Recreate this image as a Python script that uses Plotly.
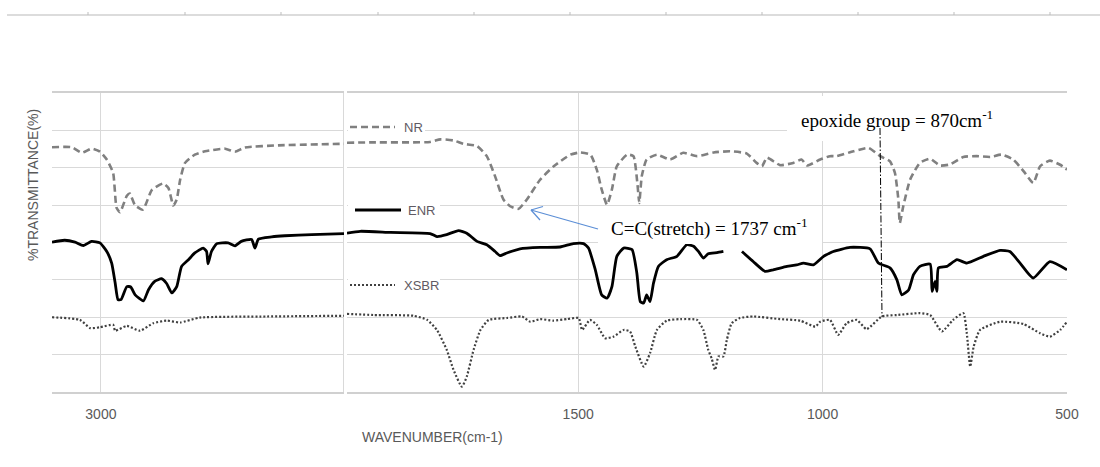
import plotly.graph_objects as go

# ---------------- data (wavenumber cm-1, transmittance arbitrary %) ----------------
NR_L_wn = [3100, 3060, 3039, 3019, 3002, 2988, 2975, 2968, 2961, 2947, 2941, 2930, 2914, 2896, 2873, 2862,
           2852, 2845, 2838, 2828, 2808, 2787, 2746, 2726, 2706, 2637, 2503]
NR_L_T = [65.5, 65.5, 64.0, 65.1, 64.3, 62.2, 58.6, 49.3, 48.1, 52.5, 53.1, 49.9, 48.8, 54.0, 55.8, 54.6,
          49.9, 51.5, 56.8, 61.3, 63.5, 64.4, 65.1, 64.3, 65.4, 66.0, 66.4]

ENR_L_wn = [3100, 3074, 3053, 3036, 3019, 3002, 2988, 2978, 2971, 2965, 2959, 2947, 2939, 2930, 2913, 2903,
            2890, 2876, 2866, 2855, 2845, 2835, 2821, 2808, 2791, 2784, 2781, 2774, 2763, 2740, 2726, 2713,
            2692, 2685, 2678, 2651, 2624, 2569, 2503]
ENR_L_T = [40.1, 40.6, 40.1, 39.2, 40.3, 39.9, 37.6, 34.5, 29.3, 24.7, 24.7, 28.2, 28.1, 26.0, 24.4, 27.3,
           29.6, 30.3, 29.1, 26.5, 28.2, 33.6, 35.4, 37.2, 38.5, 37.6, 34.3, 37.6, 39.7, 39.9, 39.1, 40.3,
           40.8, 38.5, 40.9, 41.5, 41.8, 42.1, 42.4]

XSBR_L_wn = [3100, 3043, 3022, 3002, 2975, 2971, 2947, 2920, 2893, 2866, 2838, 2798, 2661, 2503]
XSBR_L_T = [20.0, 19.3, 17.1, 17.3, 18.0, 16.4, 17.7, 16.4, 18.4, 19.1, 18.6, 19.9, 20.2, 20.4]

NR_R_wn = [1973, 1919, 1803, 1782, 1755, 1735, 1707, 1687, 1670, 1653, 1639, 1622, 1605, 1578, 1550,
           1516, 1496, 1475, 1462, 1452, 1441, 1431, 1421, 1400, 1387, 1379, 1375, 1370, 1360, 1339,
           1312, 1285, 1257, 1223, 1189, 1155, 1135, 1124, 1114, 1087, 1060, 1043, 1032, 1005, 985,
           971, 937, 906, 882, 862, 852, 845, 842, 835, 821, 801, 780, 760, 739, 712,
           685, 657, 634, 610, 589, 569, 555, 535, 514, 500]
NR_R_T = [66.7, 66.8, 66.9, 67.6, 67.3, 66.4, 65.8, 63.1, 57.7, 51.5, 49.7, 49.0, 51.5, 56.8, 60.4,
          63.5, 64.1, 63.5, 59.5, 54.2, 50.1, 54.2, 60.4, 63.5, 63.1, 55.9, 50.6, 57.7, 62.2, 63.5,
          62.2, 64.0, 63.1, 64.1, 64.4, 63.8, 61.3, 60.4, 62.7, 60.7, 61.3, 62.2, 60.6, 62.2, 63.1,
          63.1, 64.4, 65.3, 63.1, 61.7, 58.6, 51.5, 45.2, 49.7, 56.8, 61.3, 62.4, 60.6, 60.9, 62.9,
          63.1, 62.9, 63.5, 62.2, 59.1, 55.9, 60.4, 61.9, 60.8, 59.5]

ENR_R_wn = [1973, 1946, 1884, 1803, 1789, 1769, 1745, 1728, 1707, 1687, 1670, 1660, 1646, 1619, 1578,
            1537, 1510, 1489, 1479, 1465, 1452, 1441, 1431, 1421, 1407, 1390, 1380, 1373, 1366, 1360,
            1353, 1346, 1336, 1319, 1298, 1278, 1264, 1254, 1244, 1234, 1216, 1203, None,
            1165, 1142, 1118, 1101, 1073, 1053, 1039, 1019, 998, 985, 978, 944, 903, 886, 862,
            848, 838, 824, 814, 801, 780, 776, 770, 766, 763, 746, 725, 705, 671, 637,
            617, 596, 569, 535, 500]
ENR_R_T = [42.5, 43.0, 42.7, 42.4, 41.6, 42.1, 43.2, 42.5, 40.3, 39.4, 37.6, 36.5, 37.2, 38.3, 38.7,
           38.8, 39.7, 39.7, 38.5, 32.7, 26.0, 25.1, 28.2, 36.3, 38.5, 38.1, 31.8, 24.2, 23.8, 26.0,
           24.2, 29.1, 33.6, 35.4, 36.3, 39.4, 39.0, 37.6, 35.8, 37.0, 37.3, 37.6, None,
           37.6, 34.9, 32.3, 32.7, 33.6, 34.0, 34.5, 34.0, 36.3, 37.2, 37.6, 38.7, 38.3, 34.5, 33.2,
           30.0, 26.0, 27.3, 31.4, 33.6, 34.2, 26.9, 29.6, 26.9, 33.2, 33.6, 35.4, 34.5, 36.3, 37.9,
           37.6, 34.5, 30.5, 34.9, 32.7]

XSBR_R_wn = [1973, 1919, 1837, 1809, 1789, 1769, 1755, 1738, 1728, 1714, 1700, 1683, 1646, 1615, 1598,
             1578, 1551, 1523, 1499, 1492, 1476, 1462, 1445, 1428, 1407, 1394, 1383, 1366, 1353, 1339,
             1319, 1291, 1257, 1244, 1234, 1227, 1220, 1213, 1203, 1196, 1186, 1169, 1142, 1087, 1046,
             1015, 1005, 985, 968, 951, 930, 910, 879, 848, 801, 780, 756, 733, 712, 705,
             698, 691, 678, 637, 589, 555, 535, 514, 500]
XSBR_R_T = [20.9, 20.6, 20.4, 19.3, 16.6, 11.3, 5.9, 1.4, 4.1, 11.3, 16.6, 19.3, 19.8, 20.2, 18.8,
            19.5, 19.1, 19.5, 19.8, 16.6, 19.3, 18.0, 14.4, 14.8, 16.6, 16.2, 12.1, 6.8, 10.4, 16.6,
            19.1, 19.5, 19.3, 16.6, 11.3, 9.0, 5.9, 9.5, 9.5, 13.9, 18.4, 19.8, 20.2, 19.5, 19.1,
            17.5, 18.8, 19.3, 15.3, 18.4, 19.3, 16.8, 20.2, 20.6, 21.1, 20.6, 16.2, 19.3, 21.1, 15.7,
            6.8, 12.1, 16.6, 18.8, 18.2, 15.7, 14.8, 16.6, 18.8]

LEFT_RANGE = [3100, 2503]
RIGHT_RANGE = [1973, 500]
LEFT_TICKS = [3000]
LEFT_EDGE = 2504
RIGHT_TICKS = [1500, 1000, 500]
SERIES_NAMES = ["NR", "ENR", "XSBR"]

# ---------------- styles ----------------
W, H = 1100, 467
ML, MR, MT, MB = 52, 33, 93, 75
PW, PH = W - ML - MR, H - MT - MB

def px(x):
    return (x - ML) / PW

def py(y):
    return (H - MB - y) / PH

NR_LINE = dict(color="#808080", width=2.6, dash="7px,4px", shape="spline", smoothing=0.5)
ENR_LINE = dict(color="#000000", width=2.8, shape="spline", smoothing=0.5)
XSBR_LINE = dict(color="#404040", width=2.2, dash="2px,2px", shape="spline", smoothing=0.5)
GRID = "#d9d9d9"
LABEL_FONT = dict(family="Liberation Sans, Arial, sans-serif", size=14, color="#595959")

fig = go.Figure()
for wn, t, line in [(NR_L_wn, NR_L_T, NR_LINE), (ENR_L_wn, ENR_L_T, ENR_LINE), (XSBR_L_wn, XSBR_L_T, XSBR_LINE)]:
    fig.add_trace(go.Scatter(x=wn, y=t, mode="lines", line=line, xaxis="x", yaxis="y",
                             showlegend=False, hoverinfo="skip"))
for wn, t, line in [(NR_R_wn, NR_R_T, NR_LINE), (ENR_R_wn, ENR_R_T, ENR_LINE), (XSBR_R_wn, XSBR_R_T, XSBR_LINE)]:
    fig.add_trace(go.Scatter(x=wn, y=t, mode="lines", line=line, xaxis="x2", yaxis="y2",
                             showlegend=False, hoverinfo="skip", connectgaps=False))

axis_common = dict(showgrid=True, gridcolor=GRID, gridwidth=1, zeroline=False, showline=True,
                   linecolor="#d0d0d0", linewidth=2, mirror=True, ticks="", tickfont=LABEL_FONT,
                   ticklabelstandoff=8)
yaxis_common = dict(range=[0, 80], dtick=10, showgrid=True, gridcolor=GRID, gridwidth=1, zeroline=False,
                    showticklabels=False, showline=False, ticks="")

fig.update_layout(
    width=W, height=H, margin=dict(l=ML, r=MR, t=MT, b=MB),
    paper_bgcolor="white", plot_bgcolor="white",
    xaxis=dict(domain=[0, px(344)], range=LEFT_RANGE, tickvals=LEFT_TICKS, anchor="y", **axis_common),
    xaxis2=dict(domain=[px(347), 1], range=RIGHT_RANGE, tickvals=RIGHT_TICKS, anchor="y2", **axis_common),
    yaxis=dict(domain=[0, 1], anchor="x", **yaxis_common),
    yaxis2=dict(domain=[0, 1], anchor="x2", matches="y", **yaxis_common),
)

shapes = []
# right edge gridline of left panel (axis break)
shapes.append(dict(type="line", xref="x", yref="y domain", x0=LEFT_EDGE, x1=LEFT_EDGE, y0=0, y1=1,
                   line=dict(color=GRID, width=1), layer="below"))
# faint axis of a chart cropped above
shapes.append(dict(type="line", xref="paper", yref="paper", x0=px(7), x1=px(1100), y0=py(15), y1=py(15),
                   line=dict(color="#dcdcdc", width=2)))
for tx in [88, 185, 281, 378, 474, 570, 666, 762, 858, 954, 1050]:
    shapes.append(dict(type="line", xref="paper", yref="paper", x0=px(tx), x1=px(tx), y0=py(12), y1=py(15),
                       line=dict(color="#bdbdbd", width=1)))

def white_box(x0, x1, y0, y1):
    shapes.append(dict(type="rect", xref="paper", yref="paper", x0=px(x0), x1=px(x1), y0=py(y1), y1=py(y0),
                       fillcolor="white", line=dict(width=0), layer="above"))

# legend boxes
white_box(348, 425, 120, 137)
white_box(348, 440, 199, 221)
white_box(348, 440, 276, 294)
# annotation text boxes
white_box(598, 822, 209, 244)
white_box(787, 1070, 96, 141)

# legend samples
for (x0, x1, yy, line) in [(350, 395, 127, NR_LINE), (355, 401, 210, ENR_LINE), (350, 395, 285, XSBR_LINE)]:
    ln = {k: v for k, v in line.items() if k in ("color", "width", "dash")}
    shapes.append(dict(type="line", xref="paper", yref="paper", x0=px(x0), x1=px(x1), y0=py(yy), y1=py(yy),
                       line=ln, layer="above"))

# epoxide marker line (dash-dot)
shapes.append(dict(type="line", xref="paper", yref="paper", x0=px(880), x1=px(882), y0=py(128), y1=py(317),
                   line=dict(color="#000000", width=1, dash="7px,2px,1.5px,2px"), layer="above"))

# blue arrow
ARROW = dict(color="#5b8ed6", width=1.2)
shapes.append(dict(type="line", xref="paper", yref="paper", x0=px(598), y0=py(229), x1=px(531), y1=py(210),
                   line=ARROW, layer="above"))
shapes.append(dict(type="line", xref="paper", yref="paper", x0=px(531), y0=py(210), x1=px(543), y1=py(206.5),
                   line=ARROW, layer="above"))
shapes.append(dict(type="line", xref="paper", yref="paper", x0=px(531), y0=py(210), x1=px(540), y1=py(220),
                   line=ARROW, layer="above"))
fig.update_layout(shapes=shapes)

ann = []
LEG_FONT = dict(family="Liberation Sans, Arial, sans-serif", size=13, color="#5f5a63")
for name, lx, ly in [(SERIES_NAMES[0], 402, 127), (SERIES_NAMES[1], 406, 210), (SERIES_NAMES[2], 402, 285)]:
    ann.append(dict(text=name, xref="paper", yref="paper", x=px(lx), y=py(ly), xanchor="left", yanchor="middle",
                    showarrow=False, font=LEG_FONT))
SERIF = dict(family="Liberation Serif, Times New Roman, serif", size=19, color="#000000")
ann.append(dict(text="C=C(stretch) = 1737 cm<sup>-1</sup>", xref="paper", yref="paper", x=px(609), y=py(227),
                xanchor="left", yanchor="middle", showarrow=False, font=SERIF))
ann.append(dict(text="epoxide group = 870cm<sup>-1</sup>", xref="paper", yref="paper", x=px(799), y=py(119),
                xanchor="left", yanchor="middle", showarrow=False, font=SERIF))
ann.append(dict(text="WAVENUMBER(cm-1)", xref="paper", yref="paper", x=px(432), y=py(437),
                xanchor="center", yanchor="middle", showarrow=False, font=LABEL_FONT))
ann.append(dict(text="%TRANSMITTANCE(%)", xref="paper", yref="paper", x=px(33), y=py(185), textangle=-90,
                xanchor="center", yanchor="middle", showarrow=False, font=LABEL_FONT))
fig.update_layout(annotations=ann)

fig.write_html("out.html")
